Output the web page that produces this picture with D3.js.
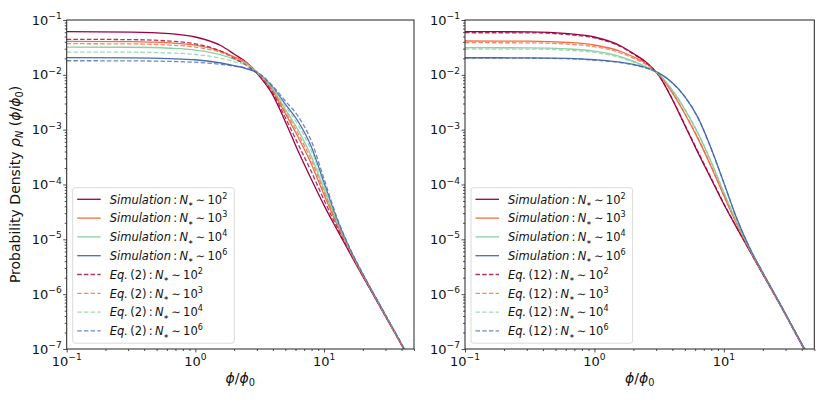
<!DOCTYPE html>
<html>
<head>
<meta charset="utf-8">
<script src="https://cdn.jsdelivr.net/npm/d3@7.9.0/dist/d3.min.js"></script>
<style>
  body { margin: 0; background: #fff; }
  svg { font-family: "DejaVu Sans", sans-serif; }
</style>
</head>
<body>
<svg id="chart" width="831" height="411"></svg>
<script>
// phi/phi0 sample points
const phi = [0.1, 0.3162, 0.631, 1, 1.585, 1.995, 2.512, 3.162, 3.981, 5.012, 6.31, 7.943, 10, 12.59, 15.85, 19.95, 28.18, 41.69, 50.12];

// log10 of probability density, left panel (Eq. 2)
const simL102 = [-1.213, -1.22, -1.25, -1.31, -1.47, -1.62, -1.78, -2.03, -2.36, -2.86, -3.40, -3.90, -4.38, -4.82, -5.25, -5.67, -6.29, -7.0, -7.33];
const simL103 = [-1.389, -1.394, -1.416, -1.458, -1.570, -1.672, -1.784, -2.01, -2.296, -2.708, -3.144, -3.62, -4.188, -4.732, -5.214, -5.65, -6.278, -6.992, -7.33];
const simL104 = [-1.493, -1.497, -1.515, -1.548, -1.636, -1.714, -1.802, -2.0, -2.264, -2.632, -3.016, -3.48, -4.092, -4.688, -5.196, -5.64, -6.272, -6.988, -7.33];
const simL106 = [-1.688, -1.691, -1.704, -1.725, -1.784, -1.832, -1.890, -1.988, -2.224, -2.537, -2.856, -3.305, -3.972, -4.633, -5.174, -5.628, -6.265, -6.983, -7.32];
const eqL102 = [-1.352, -1.358, -1.384, -1.435, -1.571, -1.697, -1.833, -2.02, -2.328, -2.784, -3.272, -3.76, -4.284, -4.776, -5.232, -5.66, -6.284, -6.996, -7.33];
const eqL103 = [-1.432, -1.436, -1.457, -1.494, -1.594, -1.684, -1.784, -2.005, -2.28, -2.67, -3.08, -3.55, -4.14, -4.71, -5.205, -5.645, -6.275, -6.99, -7.33];
const eqL104 = [-1.584, -1.587, -1.602, -1.629, -1.699, -1.759, -1.829, -1.992, -2.24, -2.575, -2.92, -3.375, -4.02, -4.655, -5.183, -5.633, -6.268, -6.985, -7.32];
const eqL106 = [-1.743, -1.745, -1.755, -1.77, -1.81, -1.84, -1.88, -1.98, -2.20, -2.48, -2.76, -3.20, -3.90, -4.60, -5.16, -5.62, -6.26, -6.98, -7.32];

// right panel (Eq. 12)
const simR102 = [-1.213, -1.215, -1.25, -1.31, -1.47, -1.61, -1.77, -2.02, -2.44, -2.93, -3.42, -3.89, -4.36, -4.79, -5.21, -5.63, -6.26, -7.0, -7.33];
const simR103 = [-1.383, -1.385, -1.410, -1.456, -1.570, -1.670, -1.790, -2.00, -2.32, -2.718, -3.164, -3.666, -4.204, -4.722, -5.19, -5.618, -6.252, -6.992, -7.33];
const simR104 = [-1.505, -1.507, -1.528, -1.569, -1.666, -1.751, -1.856, -1.992, -2.275, -2.638, -3.068, -3.582, -4.146, -4.697, -5.183, -5.614, -6.249, -6.989, -7.32];
const simR106 = [-1.688, -1.69, -1.70, -1.725, -1.77, -1.81, -1.87, -1.97, -2.14, -2.40, -2.78, -3.33, -3.97, -4.62, -5.16, -5.60, -6.24, -6.98, -7.32];
const eqR102 = [-1.232, -1.234, -1.268, -1.327, -1.484, -1.621, -1.778, -2.018, -2.431, -2.914, -3.401, -3.873, -4.348, -4.785, -5.209, -5.629, -6.259, -6.999, -7.33];
const eqR103 = [-1.414, -1.416, -1.441, -1.486, -1.598, -1.696, -1.814, -1.999, -2.314, -2.707, -3.151, -3.655, -4.196, -4.719, -5.189, -5.617, -6.252, -6.992, -7.33];
const eqR104 = [-1.529, -1.531, -1.552, -1.592, -1.686, -1.769, -1.872, -1.992, -2.269, -2.628, -3.055, -3.571, -4.138, -4.693, -5.182, -5.613, -6.249, -6.989, -7.32];
const eqR106 = [-1.695, -1.697, -1.707, -1.732, -1.777, -1.817, -1.877, -1.975, -2.145, -2.405, -2.785, -3.335, -3.97, -4.62, -5.16, -5.60, -6.24, -6.98, -7.32];

const nExps = ["2", "3", "4", "6"];
const colors = ["#9e0142", "#f46d43", "#89d0a4", "#486cb0"];
const xTicks = [0.1, 1, 10];
const xTickExp = ["\u22121", "0", "1"];
const yTicks = [1e-1, 1e-2, 1e-3, 1e-4, 1e-5, 1e-6, 1e-7];
const yTickExp = ["\u22121", "\u22122", "\u22123", "\u22124", "\u22125", "\u22126", "\u22127"];

const panels = [
  { x0: 66.7, x1: 414, eq: "2", sims: [simL102, simL103, simL104, simL106], eqs: [eqL102, eqL103, eqL104, eqL106] },
  { x0: 465, x1: 814.3, eq: "12", sims: [simR102, simR103, simR104, simR106], eqs: [eqR102, eqR103, eqR104, eqR106] }
];
const plotTop = 20, plotBottom = 349;

const svg = d3.select("#chart");

// writes a text with italic / sub / sup pieces
function mathText(sel, parts, size) {
  let shift = 0;
  parts.forEach(p => {
    const ts = sel.append("tspan").text(p.t);
    if (p.i) ts.attr("font-style", "italic");
    let target = 0, fs = size;
    if (p.s === "sup") { target = -size * 0.42; fs = size * 0.7; }
    if (p.s === "sub") { target = size * 0.22; fs = size * (p.small ? 0.55 : 0.7); }
    ts.attr("font-size", fs).attr("dy", target - shift);
    shift = target;
  });
}

panels.forEach((pn, k) => {
  const x = d3.scaleLog().domain([0.1, 50]).range([pn.x0, pn.x1]);
  const y = d3.scaleLog().domain([1e-7, 1e-1]).range([plotBottom, plotTop]);
  const g = svg.append("g");

  const clipId = "clip" + k;
  svg.append("clipPath").attr("id", clipId)
    .append("rect").attr("x", pn.x0).attr("y", plotTop)
    .attr("width", pn.x1 - pn.x0).attr("height", plotBottom - plotTop);

  const line = d3.line()
    .x((d, i) => x(phi[i]))
    .y(d => y(Math.pow(10, d)))
    .curve(d3.curveMonotoneX);

  const plot = g.append("g").attr("clip-path", `url(#${clipId})`);
  pn.sims.forEach((s, i) => {
    plot.append("path").attr("d", line(s)).attr("fill", "none")
      .attr("stroke", colors[i]).attr("stroke-width", 1.3);
  });
  pn.eqs.forEach((s, i) => {
    plot.append("path").attr("d", line(s)).attr("fill", "none")
      .attr("stroke", colors[i]).attr("stroke-width", 1.3)
      .attr("stroke-opacity", 0.8).attr("stroke-dasharray", "4.5,2.2");
  });

  // minor ticks
  const xMinor = [];
  [0.1, 1, 10].forEach(d => { for (let m = 2; m <= 9; m++) if (d * m <= 50) xMinor.push(d * m); });
  const yMinor = [];
  yTicks.slice(1).forEach(d => { for (let m = 2; m <= 9; m++) yMinor.push(d * m); });

  g.append("g").attr("transform", `translate(0,${plotBottom})`)
    .call(d3.axisBottom(x).tickValues(xMinor).tickSize(2).tickFormat(""))
    .call(a => a.select(".domain").remove());
  g.append("g").attr("transform", `translate(0,${plotBottom})`)
    .call(d3.axisBottom(x).tickValues(xTicks).tickSize(3.5).tickFormat(""))
    .call(a => a.select(".domain").remove());
  g.append("g").attr("transform", `translate(${pn.x0},0)`)
    .call(d3.axisLeft(y).tickValues(yMinor).tickSize(2).tickFormat(""))
    .call(a => a.select(".domain").remove());
  g.append("g").attr("transform", `translate(${pn.x0},0)`)
    .call(d3.axisLeft(y).tickValues(yTicks).tickSize(3.5).tickFormat(""))
    .call(a => a.select(".domain").remove());
  g.selectAll(".tick line").attr("stroke", "#222").attr("stroke-width", 0.8);

  // frame
  g.append("rect").attr("x", pn.x0).attr("y", plotTop)
    .attr("width", pn.x1 - pn.x0).attr("height", plotBottom - plotTop)
    .attr("fill", "none").attr("stroke", "#222").attr("stroke-width", 1);

  // tick labels
  xTicks.forEach((t, i) => {
    const tx = g.append("text").attr("x", x(t)).attr("y", plotBottom + 16.5)
      .attr("text-anchor", "middle").attr("font-size", 13).attr("fill", "#111");
    mathText(tx, [{ t: "10" }, { t: xTickExp[i], s: "sup" }], 13);
  });
  yTicks.forEach((t, i) => {
    const tx = g.append("text").attr("x", pn.x0 - 5).attr("y", y(t) + 4.6)
      .attr("text-anchor", "end").attr("font-size", 13).attr("fill", "#111");
    mathText(tx, [{ t: "10" }, { t: yTickExp[i], s: "sup" }], 13);
  });

  // x label
  const xl = g.append("text").attr("x", (pn.x0 + pn.x1) / 2).attr("y", 383)
    .attr("text-anchor", "middle").attr("font-size", 14).attr("fill", "#111");
  mathText(xl, [{ t: "\u03d5", i: true }, { t: "/" }, { t: "\u03d5", i: true }, { t: "0", s: "sub" }], 14);

  // legend
  const bx = pn.x0 + 6, by = 187.7, rowH = 18.8;
  const leg = g.append("g");
  leg.append("rect").attr("x", bx).attr("y", by).attr("width", 161.6).attr("height", 155.5)
    .attr("rx", 2.5).attr("fill", "#fff").attr("fill-opacity", 0.8)
    .attr("stroke", "#d0d0d0").attr("stroke-width", 0.8);
  const entries = [];
  nExps.forEach((e, i) => entries.push({ kind: "sim", e, c: colors[i] }));
  nExps.forEach((e, i) => entries.push({ kind: "eq", e, c: colors[i] }));
  entries.forEach((en, i) => {
    const ry = by + 11.6 + i * rowH;
    const ln = leg.append("line").attr("x1", bx + 4.5).attr("x2", bx + 28)
      .attr("y1", ry).attr("y2", ry).attr("stroke", en.c).attr("stroke-width", 1.3);
    if (en.kind === "eq") ln.attr("stroke-dasharray", "4.5,2.2").attr("stroke-opacity", 0.8);
    const tx = leg.append("text").attr("x", bx + 37).attr("y", ry + 4.2)
      .attr("font-size", 11.5).attr("fill", "#111");
    const head = en.kind === "sim"
      ? [{ t: "Simulation", i: true }]
      : [{ t: "Eq.", i: true }, { t: "\u2009(" + pn.eq + ")" }];
    mathText(tx, head.concat([
      { t: "\u2009:\u2009" },
      { t: "N", i: true }, { t: "\u2217", s: "sub", small: true },
      { t: "\u2009\u223c\u200910" }, { t: en.e, s: "sup" }
    ]), 11.5);
  });
});

// shared y label
const yl = svg.append("text").attr("transform", "translate(20,184.5) rotate(-90)")
  .attr("text-anchor", "middle").attr("font-size", 14).attr("fill", "#111");
mathText(yl, [
  { t: "Probability Density " }, { t: "\u03c1", i: true }, { t: "N", i: true, s: "sub" },
  { t: " (" }, { t: "\u03d5", i: true }, { t: "/" }, { t: "\u03d5", i: true }, { t: "0", s: "sub" }, { t: ")" }
], 14);
</script>
</body>
</html>
